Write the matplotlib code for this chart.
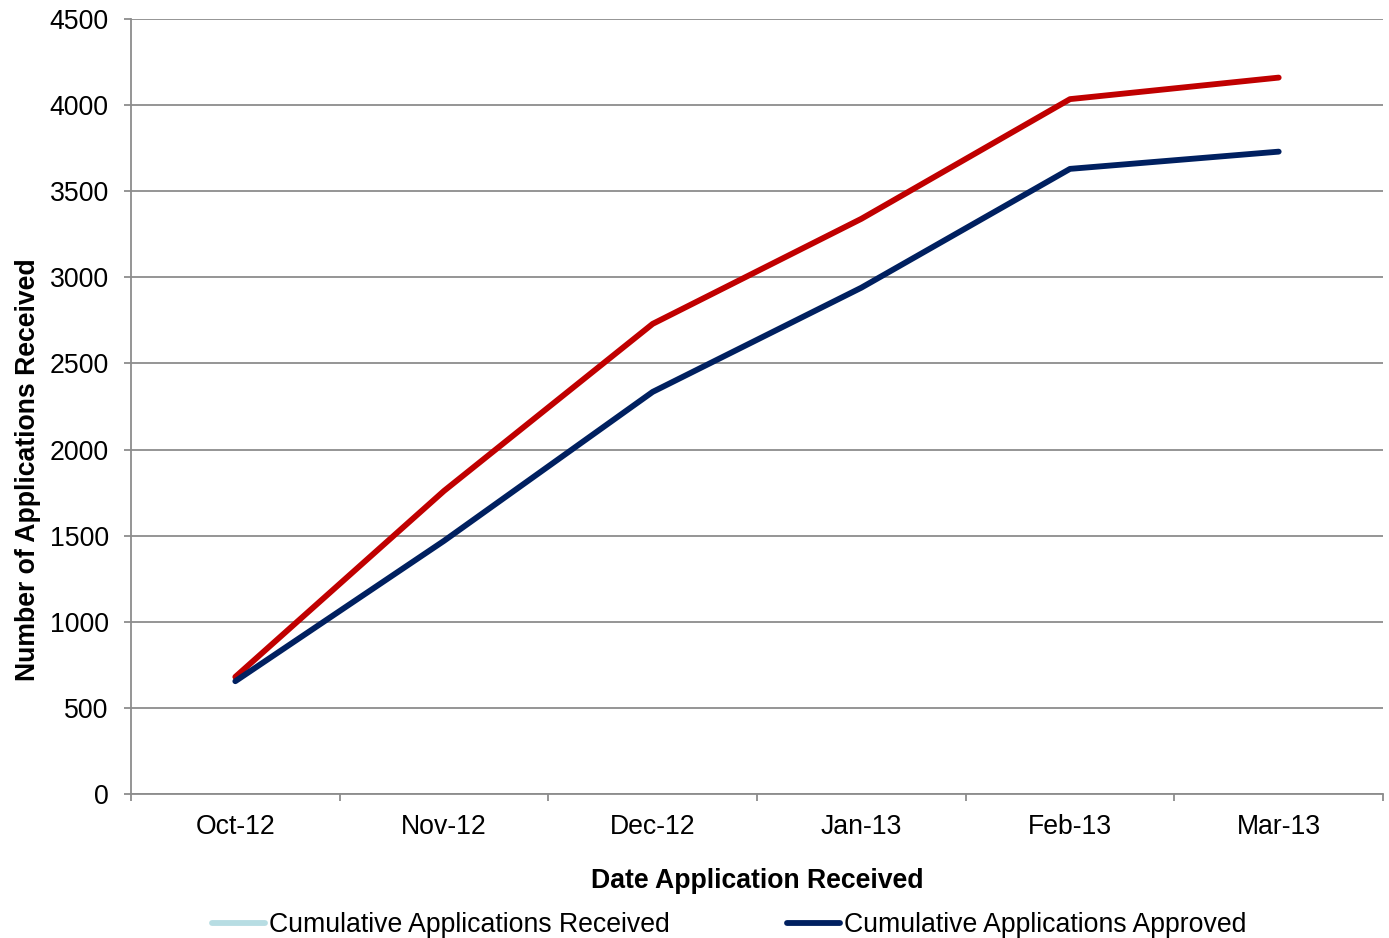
import matplotlib.pyplot as plt
from matplotlib.lines import Line2D

plt.rcParams['font.family'] = ['Liberation Sans', 'DejaVu Sans']

months = ["Oct-12", "Nov-12", "Dec-12", "Jan-13", "Feb-13", "Mar-13"]
received = [680, 1760, 2730, 3340, 4035, 4160]
approved = [655, 1470, 2335, 2940, 3630, 3730]

fs = 19.2

fig = plt.figure(figsize=(13.89, 9.38), dpi=100)
ax = fig.add_axes([0.0943, 0.1535, 0.9014, 0.8262])

x = range(len(months))
ax.plot(x, received, color="#C00000", lw=4.2, solid_capstyle="round", zorder=3)
ax.plot(x, approved, color="#002060", lw=4.2, solid_capstyle="round", zorder=3)

ax.set_xlim(-0.5, len(months) - 0.5)
ax.set_ylim(0, 4500)
ax.set_yticks(range(0, 4501, 500))
ax.yaxis.grid(True, color="#8c8c8c", lw=1.3)
ax.set_axisbelow(True)

# category labels sit between the tick marks
ax.set_xticks([i - 0.5 for i in range(len(months) + 1)])
ax.set_xticklabels([])
ax.set_xticks(list(x), minor=True)
ax.set_xticklabels(months, minor=True)
ax.tick_params(axis="x", which="major", length=5, width=1.3, color="#8c8c8c")
ax.tick_params(axis="x", which="minor", length=0, pad=14.5, labelsize=fs)
ax.tick_params(axis="y", length=5, width=1.3, color="#8c8c8c", labelsize=fs, pad=11)

for side in ("top", "right"):
    ax.spines[side].set_visible(False)
for side in ("left", "bottom"):
    ax.spines[side].set_color("#8c8c8c")
    ax.spines[side].set_linewidth(1.3)

ax.set_xlabel("Date Application Received", fontsize=fs, fontweight="bold", labelpad=20)
ax.set_ylabel("Number of Applications Received", fontsize=fs, fontweight="bold",
              va="center", ha="center")
ax.yaxis.set_label_coords(-0.0825, 0.418)

handles = [
    Line2D([], [], color="#B7DDE3", lw=4.2, solid_capstyle="round"),
    Line2D([], [], color="#002060", lw=4.2, solid_capstyle="round"),
]
fig.legend(handles, ["Cumulative Applications Received", "Cumulative Applications Approved"],
           loc="center", bbox_to_anchor=(0.525, 0.014), ncol=2, frameon=False,
           fontsize=fs, handlelength=2.0, handletextpad=0.15, columnspacing=4.4,
           borderpad=0, borderaxespad=0)

fig.savefig("out.png", dpi=100)
